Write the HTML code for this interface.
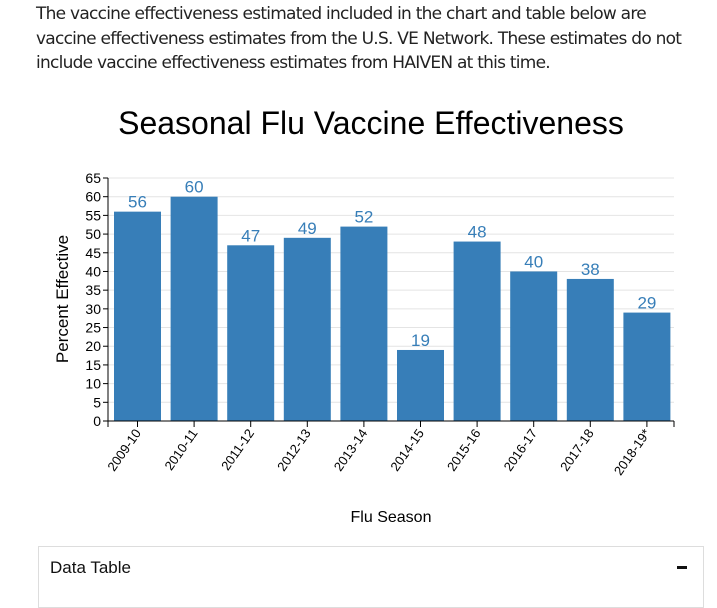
<!DOCTYPE html>
<html><head><style>
body{margin:0;width:717px;height:585px;overflow:hidden;background:#fff;font-family:"Liberation Sans",sans-serif;}
.p{position:absolute;left:36px;top:2px;width:680px;font-size:17px;line-height:24.5px;color:#222;font-family:"DejaVu Sans","Liberation Sans",sans-serif;letter-spacing:-0.75px;white-space:nowrap}
.box{position:absolute;left:38px;top:546px;width:664px;height:60px;border:1px solid #ddd;}
.box span{position:absolute;left:11px;top:11px;font-size:17px;color:#111}
.box b{position:absolute;right:16px;top:19px;width:10px;height:3px;background:#111}
</style></head><body>
<div class="p">The vaccine effectiveness estimated included in the chart and table below are<br>vaccine effectiveness estimates from the U.S. VE Network. These estimates do not<br>include vaccine effectiveness estimates from HAIVEN at this time.</div>
<svg width="717" height="585" style="position:absolute;left:0;top:0">
<text x="371" y="134" font-size="32" text-anchor="middle" fill="#000">Seasonal Flu Vaccine Effectiveness</text>
<g id="grid" stroke="#e4e4e4" stroke-width="1"></g>
<g id="bars"></g>
<line x1="108" y1="178" x2="108" y2="421" stroke="#000"/>
<line x1="103" y1="421" x2="674" y2="421" stroke="#000"/>
<line x1="108" y1="421" x2="108" y2="427" stroke="#000"/>
<line x1="674" y1="421" x2="674" y2="427" stroke="#000"/>
<g id="yt" font-size="14" text-anchor="end"></g>
<text transform="translate(68,299) rotate(-90)" font-size="17" text-anchor="middle">Percent Effective</text>
<text x="391" y="522" font-size="16" text-anchor="middle">Flu Season</text>
</svg>
<div class="box"><span>Data Table</span><b></b></div>
<script>
var ns="http://www.w3.org/2000/svg",s=document.querySelector('svg');
function el(t,a,p,tx){var e=document.createElementNS(ns,t);for(var k in a)e.setAttribute(k,a[k]);if(tx!=null)e.textContent=tx;p.appendChild(e);return e;}
var y=v=>421-v*243/65;
var g=document.getElementById('grid'),yt=document.getElementById('yt');
for(var v=0;v<=65;v+=5){if(v>0)el('line',{x1:108,x2:674,y1:y(v),y2:y(v)},g);el('line',{x1:103,x2:108,y1:y(v),y2:y(v),stroke:'#000'},yt);el('text',{x:101,y:y(v)+5},yt,v);}
var d=[["2009-10",56],["2010-11",60],["2011-12",47],["2012-13",49],["2013-14",52],["2014-15",19],["2015-16",48],["2016-17",40],["2017-18",38],["2018-19*",29]];
var b=document.getElementById('bars');
d.forEach(function(r,i){var x=114+i*56.6,w=47;
el('rect',{x:x,y:y(r[1]),width:w,height:421-y(r[1]),fill:'#377eb8'},b);
el('text',{x:x+w/2,y:y(r[1])-4,'font-size':17,'text-anchor':'middle',fill:'#377eb8'},b,r[1]);
el('line',{x1:x+w/2,x2:x+w/2,y1:421,y2:427,stroke:'#000'},b);
el('text',{transform:'translate('+(x+w/2+4)+',433) rotate(-55)','font-size':13,'text-anchor':'end'},b,r[0]);
});
</script>
</body></html>
